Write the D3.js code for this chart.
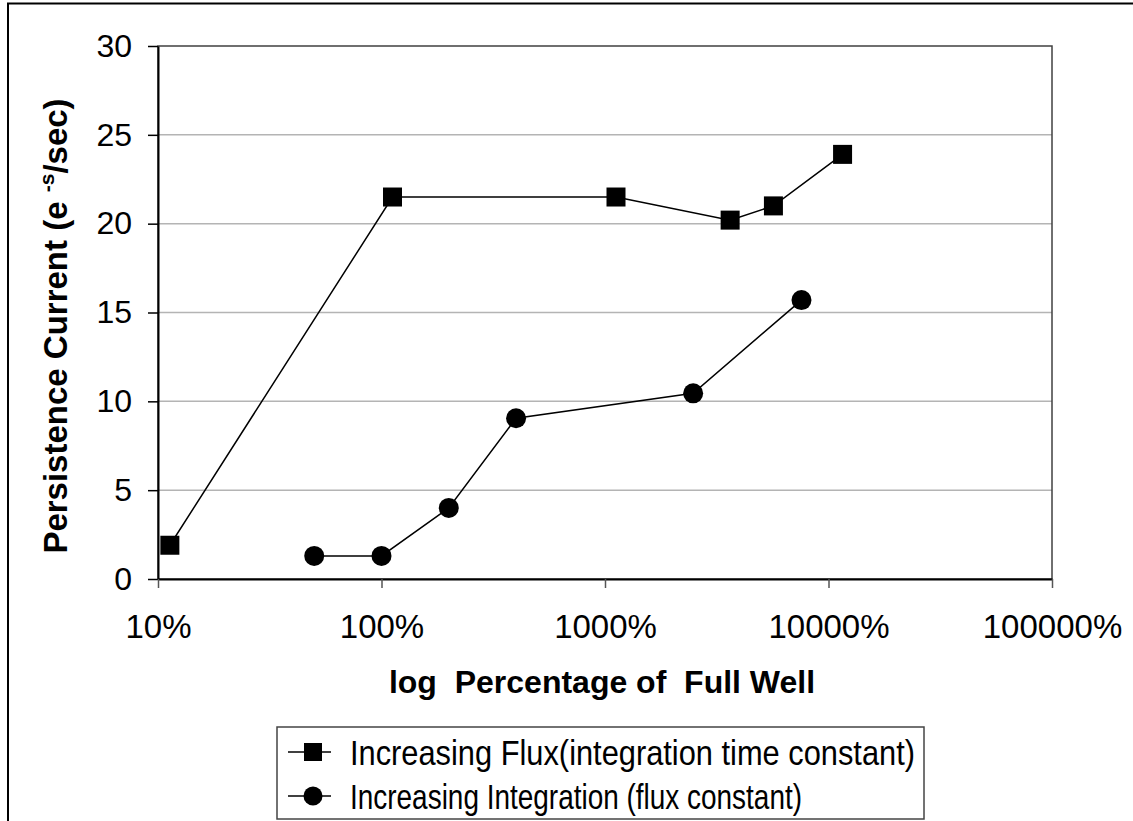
<!DOCTYPE html>
<html>
<head>
<meta charset="utf-8">
<script src="https://cdn.jsdelivr.net/npm/d3@7"></script>
<style>
  body { margin: 0; background: #fff; overflow: hidden; }
  svg { display: block; font-family: "Liberation Sans", Arial, sans-serif; }
</style>
</head>
<body>
<div id="chart"></div>
<script>
// values
const flux_x = [11.3, 112, 1120, 3630, 5670, 11560];
const flux_y = [1.9, 21.5, 21.5, 20.2, 21.0, 23.9];
const integ_x = [50, 100, 200, 400, 2480, 7570];
const integ_y = [1.3, 1.3, 4.0, 9.05, 10.45, 15.7];
const x_ticks = [10, 100, 1000, 10000, 100000];
const y_ticks = [0, 5, 10, 15, 20, 25, 30];
const series_names = ["Increasing Flux(integration time constant)", "Increasing Integration (flux constant)"];

const W = 1133, H = 821;
const plot = {left: 158, right: 1052, top: 46, bottom: 579};

const svg = d3.select("#chart").append("svg")
	.attr("width", W)
	.attr("height", H);

// outer chart frame, runs off the bottom / right of the picture
svg.append("rect")
	.attr("x", 8).attr("y", 3.5)
	.attr("width", W + 20).attr("height", H + 20)
	.attr("fill", "#fff")
	.attr("stroke", "#000")
	.attr("stroke-width", 2);

const x = d3.scaleLog()
	.domain([10, 100000])
	.range([plot.left, plot.right]);

const y = d3.scaleLinear()
	.domain([0, 30])
	.range([plot.bottom, plot.top]);

// gridlines
svg.append("g")
	.selectAll("line")
	.data(y_ticks.filter(d => d > 0 && d < 30))
	.enter().append("line")
	.attr("x1", plot.left).attr("x2", plot.right)
	.attr("y1", d => y(d)).attr("y2", d => y(d))
	.attr("stroke", "#b4b4b4")
	.attr("stroke-width", 1.5);

// plot area border
svg.append("rect")
	.attr("x", plot.left).attr("y", plot.top)
	.attr("width", plot.right - plot.left)
	.attr("height", plot.bottom - plot.top)
	.attr("fill", "none")
	.attr("stroke", "#404040")
	.attr("stroke-width", 1.5);

// y axis
const y_axis = svg.append("g")
	.attr("transform", `translate(${plot.left},0)`)
	.call(d3.axisLeft(y).tickValues(y_ticks).tickSize(10).tickPadding(16).tickSizeOuter(0));
y_axis.select(".domain").attr("stroke", "#000").attr("stroke-width", 2);
y_axis.selectAll(".tick line").attr("stroke", "#000").attr("stroke-width", 1.5);
y_axis.selectAll(".tick text")
	.attr("font-size", 32)
	.attr("fill", "#000")
	.attr("font-family", "Liberation Sans, Arial, sans-serif");

// x axis
const x_axis = svg.append("g")
	.attr("transform", `translate(0,${plot.bottom})`)
	.call(d3.axisBottom(x).tickValues(x_ticks).tickFormat(d => d + "%").tickSize(9).tickPadding(27).tickSizeOuter(0));
x_axis.select(".domain").attr("stroke", "#000").attr("stroke-width", 2);
x_axis.selectAll(".tick line").attr("stroke", "#555").attr("stroke-width", 1.5);
x_axis.selectAll(".tick text")
	.attr("font-size", 33)
	.attr("fill", "#000")
	.attr("font-family", "Liberation Sans, Arial, sans-serif");

// axis titles
svg.append("text")
	.attr("x", 602).attr("y", 693)
	.attr("text-anchor", "middle")
	.attr("font-size", 32)
	.attr("font-weight", "bold")
	.attr("xml:space", "preserve")
	.style("white-space", "pre")
	.text("log  Percentage of  Full Well");

const y_title = svg.append("text")
	.attr("transform", `translate(67,326) rotate(-90)`)
	.attr("text-anchor", "middle")
	.attr("font-size", 33)
	.attr("font-weight", "bold");
y_title.append("tspan").text("Persistence Current (e ");
y_title.append("tspan").attr("font-size", 21).attr("dy", -13).text("-s");
y_title.append("tspan").attr("dy", 13).text("/sec)");

// series
const line = d3.line().x(d => x(d[0])).y(d => y(d[1]));
const flux = flux_x.map((v, i) => [v, flux_y[i]]);
const integ = integ_x.map((v, i) => [v, integ_y[i]]);

[flux, integ].forEach(s => {
	svg.append("path")
		.datum(s)
		.attr("d", line)
		.attr("fill", "none")
		.attr("stroke", "#000")
		.attr("stroke-width", 1.5);
});

const sq = 19;
svg.append("g").selectAll("rect")
	.data(flux)
	.enter().append("rect")
	.attr("x", d => x(d[0]) - sq / 2)
	.attr("y", d => y(d[1]) - sq / 2)
	.attr("width", sq).attr("height", sq)
	.attr("fill", "#000");

svg.append("g").selectAll("circle")
	.data(integ)
	.enter().append("circle")
	.attr("cx", d => x(d[0]))
	.attr("cy", d => y(d[1]))
	.attr("r", 10)
	.attr("fill", "#000");

// legend
const legend = svg.append("g");
legend.append("rect")
	.attr("x", 277).attr("y", 727)
	.attr("width", 647).attr("height", 92)
	.attr("fill", "#fff")
	.attr("stroke", "#444")
	.attr("stroke-width", 1.5);

const rows = [752, 796];
rows.forEach((ry, i) => {
	legend.append("line")
		.attr("x1", 288).attr("x2", 331)
		.attr("y1", ry).attr("y2", ry)
		.attr("stroke", "#000")
		.attr("stroke-width", 1.5);
	if (i === 0) {
		legend.append("rect")
			.attr("x", 313 - 9).attr("y", ry - 9)
			.attr("width", 18).attr("height", 18)
			.attr("fill", "#000");
	} else {
		legend.append("circle")
			.attr("cx", 313).attr("cy", ry)
			.attr("r", 9.5)
			.attr("fill", "#000");
	}
	legend.append("text")
		.attr("x", 350).attr("y", ry)
		.attr("dy", "0.36em")
		.attr("font-size", 35)
		.attr("textLength", i === 0 ? 565 : 452)
		.attr("lengthAdjust", "spacingAndGlyphs")
		.text(series_names[i]);
});
</script>
</body>
</html>
